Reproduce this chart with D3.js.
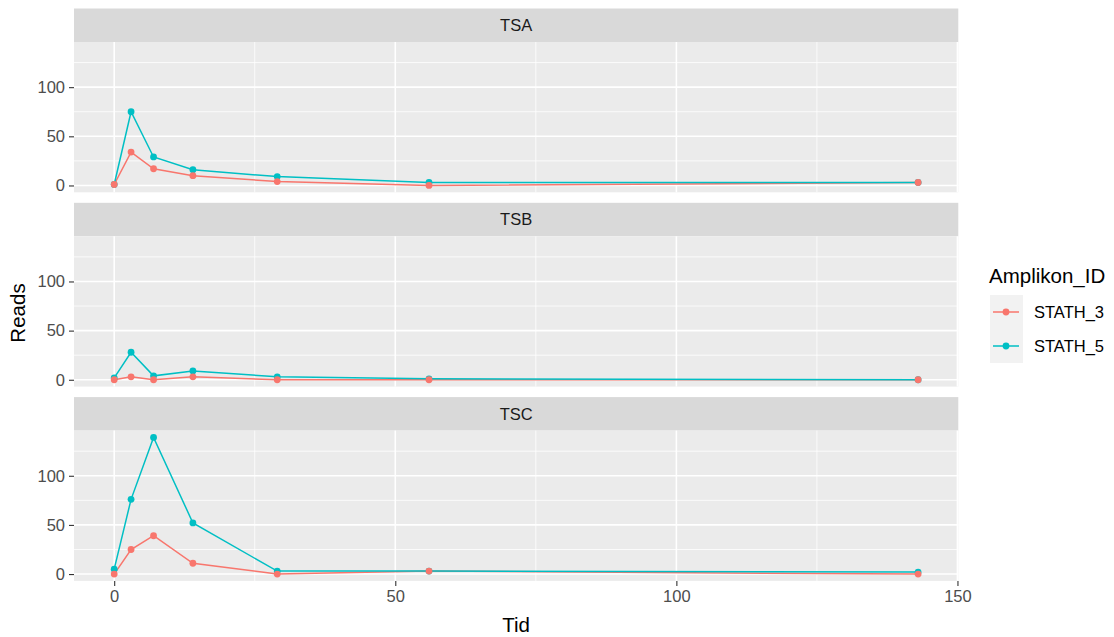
<!DOCTYPE html>
<html>
<head>
<meta charset="utf-8">
<script src="https://cdn.jsdelivr.net/npm/d3@7"></script>
<style>
  body { margin: 0; background: #fff; }
  svg { font-family: "Liberation Sans", Arial, sans-serif; }
</style>
</head>
<body>
<svg width="1114" height="637"></svg>
<script>
// data
const times = [0, 3, 7, 14, 29, 56, 143];
const panels = ['TSA', 'TSB', 'TSC'];
const amplikons = ['STATH_3', 'STATH_5'];

const tsaStath3 = [1, 34, 17, 10, 4, 0, 3];
const tsaStath5 = [1, 75, 29, 16, 9, 3, 3];
const tsbStath3 = [0, 3, 0, 3, 0, 0, 0];
const tsbStath5 = [2, 28, 4, 9, 3, 1, 0];
const tscStath3 = [0, 25, 39, 11, 0, 3, 0];
const tscStath5 = [5, 76, 139, 52, 3, 3, 2];

const xTicks = [0, 50, 100, 150];
const xMinor = [25, 75, 125];
const yTicks = [0, 50, 100];
const yMinor = [25, 75, 125];

const series = {
    TSA: { STATH_3: tsaStath3, STATH_5: tsaStath5 },
    TSB: { STATH_3: tsbStath3, STATH_5: tsbStath5 },
    TSC: { STATH_3: tscStath3, STATH_5: tscStath5 }
};

const svg = d3.select('svg');

const left = 74, right = 958.3;
const stripTop0 = 8.5, period = 194.3, stripH = 33.5, panelH = 150.3;

const color = d3.scaleOrdinal().domain(amplikons).range(['#F8766D', '#00BFC4']);

const xMax = d3.max(times);
const xPad = xMax * 0.05;
const xScale = d3.scaleLinear().domain([-xPad, xMax + xPad]).range([left, right]);

const allVals = panels.flatMap(p => amplikons.flatMap(a => series[p][a]));
const yMaxData = d3.max(allVals);
const yPad = yMaxData * 0.05;

panels.forEach((p, i) => {
    const stripTop = stripTop0 + i * period;
    const top = stripTop + stripH;
    const bottom = top + panelH;
    const yScale = d3.scaleLinear().domain([-yPad, yMaxData + yPad]).range([bottom, top]);

    const g = svg.append('g');

    // strip
    g.append('rect')
        .attr('x', left).attr('y', stripTop)
        .attr('width', right - left).attr('height', stripH)
        .attr('fill', '#D9D9D9');
    g.append('text')
        .attr('x', (left + right) / 2)
        .attr('y', stripTop + stripH / 2)
        .attr('dy', '0.36em')
        .attr('text-anchor', 'middle')
        .attr('font-size', 16.5)
        .attr('fill', '#1A1A1A')
        .text(p);

    // panel
    g.append('rect')
        .attr('x', left).attr('y', top)
        .attr('width', right - left).attr('height', panelH)
        .attr('fill', '#EBEBEB');

    const grid = g.append('g').attr('stroke', '#fff');
    grid.selectAll('.ymin').data(yMinor).join('line')
        .attr('x1', left).attr('x2', right)
        .attr('y1', d => yScale(d)).attr('y2', d => yScale(d))
        .attr('stroke-width', 0.8);
    grid.selectAll('.xmin').data(xMinor).join('line')
        .attr('y1', top).attr('y2', bottom)
        .attr('x1', d => xScale(d)).attr('x2', d => xScale(d))
        .attr('stroke-width', 0.8);
    grid.selectAll('.ymaj').data(yTicks).join('line')
        .attr('x1', left).attr('x2', right)
        .attr('y1', d => yScale(d)).attr('y2', d => yScale(d))
        .attr('stroke-width', 1.6);
    grid.selectAll('.xmaj').data(xTicks).join('line')
        .attr('y1', top).attr('y2', bottom)
        .attr('x1', d => xScale(d)).attr('x2', d => xScale(d))
        .attr('stroke-width', 1.6);

    // y axis
    const yAxis = d3.axisLeft(yScale).tickValues(yTicks).tickSize(5).tickPadding(4);
    const yAxisG = g.append('g')
        .attr('transform', `translate(${left}, 0)`)
        .call(yAxis);
    yAxisG.select('.domain').remove();
    yAxisG.selectAll('line').attr('stroke', '#333333').attr('stroke-width', 1.1);
    yAxisG.selectAll('text')
        .attr('font-size', 16.5)
        .attr('font-family', '"Liberation Sans", Arial, sans-serif')
        .attr('fill', '#4D4D4D');

    // x axis on the bottom panel only
    if (i === panels.length - 1) {
        const xAxis = d3.axisBottom(xScale).tickValues(xTicks).tickSize(5).tickPadding(4);
        const xAxisG = g.append('g')
            .attr('transform', `translate(0, ${bottom})`)
            .call(xAxis);
        xAxisG.select('.domain').remove();
        xAxisG.selectAll('line').attr('stroke', '#333333').attr('stroke-width', 1.1);
        xAxisG.selectAll('text')
            .attr('font-size', 16.5)
            .attr('font-family', '"Liberation Sans", Arial, sans-serif')
            .attr('fill', '#4D4D4D');
    }

    const line = d3.line()
        .x(d => xScale(d[0]))
        .y(d => yScale(d[1]));

    const pts = amplikons.map(a => ({
        key: a,
        values: times.map((t, j) => [t, series[p][a][j]])
    }));

    g.selectAll('.series').data(pts).join('path')
        .attr('d', d => line(d.values))
        .attr('fill', 'none')
        .attr('stroke', d => color(d.key))
        .attr('stroke-width', 1.5);

    // cyan points first, red on top
    pts.slice().reverse().forEach(s => {
        g.append('g').selectAll('circle').data(s.values).join('circle')
            .attr('cx', d => xScale(d[0]))
            .attr('cy', d => yScale(d[1]))
            .attr('r', 3.4)
            .attr('fill', color(s.key));
    });
});

// axis titles
svg.append('text')
    .attr('x', (left + right) / 2)
    .attr('y', 632)
    .attr('text-anchor', 'middle')
    .attr('font-size', 20.5)
    .text('Tid');

svg.append('text')
    .attr('transform', 'translate(25, 313) rotate(-90)')
    .attr('text-anchor', 'middle')
    .attr('font-size', 20.5)
    .text('Reads');

// legend
const legend = svg.append('g').attr('transform', 'translate(989, 0)');
legend.append('text')
    .attr('x', 0).attr('y', 283)
    .attr('font-size', 20.5)
    .text('Amplikon_ID');

const keyH = 34;
const keys = legend.selectAll('.key').data(amplikons).join('g')
    .attr('transform', (d, i) => `translate(0, ${295 + i * keyH})`);
keys.append('rect')
    .attr('x', 1).attr('y', 0)
    .attr('width', 33).attr('height', keyH)
    .attr('fill', '#F2F2F2');
keys.append('line')
    .attr('x1', 4).attr('x2', 30)
    .attr('y1', keyH / 2).attr('y2', keyH / 2)
    .attr('stroke', d => color(d))
    .attr('stroke-width', 1.5);
keys.append('circle')
    .attr('cx', 17).attr('cy', keyH / 2)
    .attr('r', 3.4)
    .attr('fill', d => color(d));
keys.append('text')
    .attr('x', 45).attr('y', keyH / 2)
    .attr('dy', '0.36em')
    .attr('font-size', 16.5)
    .text(d => d);
</script>
</body>
</html>
